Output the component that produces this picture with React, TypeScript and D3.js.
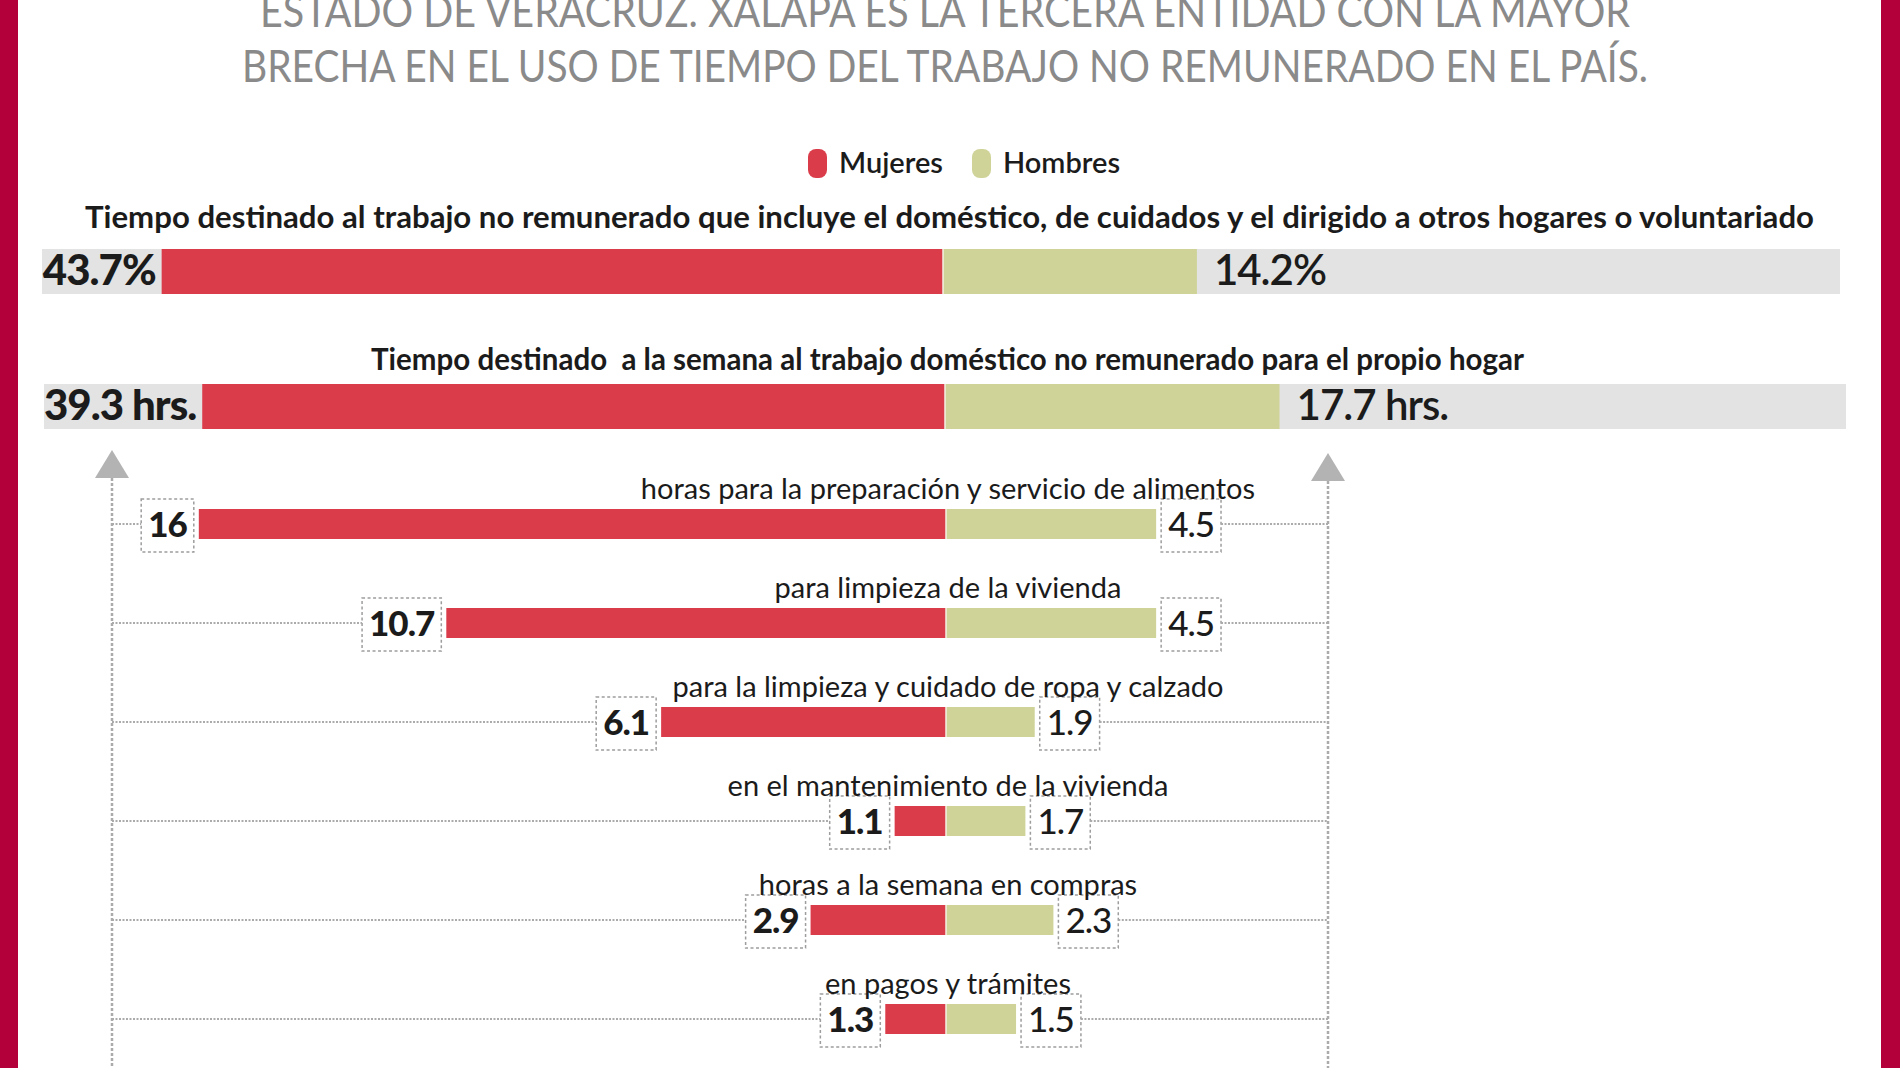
import React, { useEffect, useRef } from "react";
import * as d3 from "d3";

// ---------- data ----------
const titleLines = [
  "ESTADO DE VERACRUZ. XALAPA ES LA TERCERA ENTIDAD CON LA MAYOR",
  "BRECHA EN EL USO DE TIEMPO DEL TRABAJO NO REMUNERADO EN EL PAÍS.",
];
const seriesNames = ["Mujeres", "Hombres"];
const summaryTitles = [
  "Tiempo destinado al trabajo no remunerado que incluye el doméstico, de cuidados y el dirigido a otros hogares o voluntariado",
  "Tiempo destinado  a la semana al trabajo doméstico no remunerado para el propio hogar",
];
const summaryMujeres = [43.7, 39.3];
const summaryHombres = [14.2, 17.7];
const summaryUnits = ["%", " hrs."];
const categories = [
  "horas para la preparación y servicio de alimentos",
  "para limpieza de la vivienda",
  "para la limpieza y cuidado de ropa y calzado",
  "en el mantenimiento de la vivienda",
  "horas a la semana en compras",
  "en pagos y trámites",
];
const mujeres = [16, 10.7, 6.1, 1.1, 2.9, 1.3];
const hombres = [4.5, 4.5, 1.9, 1.7, 2.3, 1.5];
const nextCategory = "en gestión y administración";

// ---------- style ----------
const RED = "#db3c4a";
const GREEN = "#cfd398";
const BG = "#e3e3e3";
const BORDER = "#b4003a";
const INK = "#1b1b1b";
const DOT = "#ababab";
const FONT = "Lato, 'Open Sans', sans-serif";

export default function App() {
  const ref = useRef<SVGSVGElement | null>(null);

  useEffect(() => {
    const svg = d3.select(ref.current);
    svg.selectAll("*").remove();

    // borders
    svg.append("rect").attr("x", 0).attr("y", 0).attr("width", 18).attr("height", 1068).attr("fill", BORDER);
    svg.append("rect").attr("x", 1881).attr("y", 0).attr("width", 19).attr("height", 1068).attr("fill", BORDER);

    // title
    const titleY = [27, 82];
    const titleW = [1370, 1406];
    titleLines.forEach((t, i) => {
      svg.append("text")
        .attr("x", 945).attr("y", titleY[i])
        .attr("text-anchor", "middle")
        .attr("font-family", FONT).attr("font-size", 45).attr("font-weight", 400)
        .attr("fill", "#8a8a8a")
        .attr("textLength", titleW[i]).attr("lengthAdjust", "spacingAndGlyphs")
        .text(t);
    });

    // legend
    const legendX = [808, 972];
    const legendColors = [RED, GREEN];
    seriesNames.forEach((n, i) => {
      svg.append("rect").attr("x", legendX[i]).attr("y", 149).attr("width", 19).attr("height", 29)
        .attr("rx", 8).attr("fill", legendColors[i]);
      svg.append("text").attr("x", legendX[i] + 31).attr("y", 173)
        .attr("font-family", FONT).attr("font-size", 29).attr("font-weight", 600).attr("fill", INK)
        .text(n);
    });

    // summary bars
    const summaryScales = [
      d3.scaleLinear().domain([-50, 50]).range([49, 1837]),
      d3.scaleLinear().domain([-40, 40]).range([189, 1701]),
    ];
    const sumTitleX = [949.5, 947.5];
    const sumTitleY = [228, 370];
    const sumTitleW = [1729, 1153];
    const sumBarY = [249, 384];
    const sumBgX = [[42, 1840], [44, 1846]];
    const barH = 45;
    summaryTitles.forEach((t, i) => {
      const x = summaryScales[i];
      svg.append("text")
        .attr("x", sumTitleX[i]).attr("y", sumTitleY[i])
        .attr("text-anchor", "middle")
        .attr("font-family", FONT).attr("font-size", 31).attr("font-weight", 700).attr("fill", INK)
        .attr("textLength", sumTitleW[i]).attr("lengthAdjust", "spacingAndGlyphs")
        .style("white-space", "pre")
        .text(t);
      svg.append("rect").attr("x", sumBgX[i][0]).attr("y", sumBarY[i])
        .attr("width", sumBgX[i][1] - sumBgX[i][0]).attr("height", barH).attr("fill", BG);
      svg.append("rect").attr("x", x(-summaryMujeres[i])).attr("y", sumBarY[i])
        .attr("width", x(0) - x(-summaryMujeres[i])).attr("height", barH).attr("fill", RED);
      svg.append("rect").attr("x", x(0)).attr("y", sumBarY[i])
        .attr("width", x(summaryHombres[i]) - x(0)).attr("height", barH).attr("fill", GREEN);
      svg.append("line").attr("x1", x(0)).attr("x2", x(0)).attr("y1", sumBarY[i]).attr("y2", sumBarY[i] + barH)
        .attr("stroke", "#f4f0e6").attr("stroke-width", 1.5);
      const fmt = (v: number) => `${v}${summaryUnits[i]}`;
      svg.append("text")
        .attr("x", x(-summaryMujeres[i]) - 6).attr("y", sumBarY[i] + 36)
        .attr("text-anchor", "end")
        .attr("font-family", FONT).attr("font-size", 42).attr("font-weight", 900).attr("fill", INK)
        .attr("letter-spacing", -1)
        .text(fmt(summaryMujeres[i]));
      svg.append("text")
        .attr("x", x(summaryHombres[i]) + 17).attr("y", sumBarY[i] + 36)
        .attr("font-family", FONT).attr("font-size", 42).attr("font-weight", 600).attr("fill", INK)
        .attr("letter-spacing", -1)
        .text(fmt(summaryHombres[i]));
    });

    // detail section
    const xD = d3.scaleLinear().domain([-16, 16]).range([198.8, 1693.2]);
    const yD = d3.scalePoint<string>().domain(categories).range([509, 1004]);
    const dH = 30;
    const axisL = 112;
    const axisR = 1328;

    // vertical dotted axes with arrows
    [[axisL, 450], [axisR, 453]].forEach(([ax, top]) => {
      svg.append("line").attr("x1", ax).attr("x2", ax).attr("y1", top + 28).attr("y2", 1068)
        .attr("stroke", DOT).attr("stroke-width", 2.5).attr("stroke-dasharray", "3,2");
      svg.append("path")
        .attr("d", `M${ax},${top} L${ax + 17},${top + 28} L${ax - 17},${top + 28} Z`)
        .attr("fill", "#b3b3b3");
    });

    categories.forEach((c, i) => {
      const y0 = yD(c) as number;
      const cy = y0 + dH / 2;
      // bars
      svg.append("rect").attr("x", xD(-mujeres[i])).attr("y", y0)
        .attr("width", xD(0) - xD(-mujeres[i])).attr("height", dH).attr("fill", RED);
      svg.append("rect").attr("x", xD(0)).attr("y", y0)
        .attr("width", xD(hombres[i]) - xD(0)).attr("height", dH).attr("fill", GREEN);
      svg.append("line").attr("x1", xD(0)).attr("x2", xD(0)).attr("y1", y0).attr("y2", y0 + dH)
        .attr("stroke", "#f4f0e6").attr("stroke-width", 1.5);

      // value boxes
      const gap = 5;
      const pad = 7;
      const boxTop = cy - 25;
      const boxH = 53;

      const tL = svg.append("text")
        .attr("y", cy + 12.5)
        .attr("text-anchor", "middle")
        .attr("font-family", FONT).attr("font-size", 35).attr("font-weight", 900).attr("fill", INK)
        .attr("letter-spacing", -1)
        .text(String(mujeres[i]));
      const wL = (tL.node() as SVGTextElement).getComputedTextLength();
      const bwL = wL + pad * 2;
      const bxL = xD(-mujeres[i]) - gap - bwL;
      tL.attr("x", bxL + bwL / 2);
      svg.append("rect").attr("x", bxL).attr("y", boxTop).attr("width", bwL).attr("height", boxH)
        .attr("fill", "none").attr("stroke", "#9d9d9d").attr("stroke-width", 1.5).attr("stroke-dasharray", "3,2.5");
      svg.append("line").attr("x1", axisL).attr("x2", bxL).attr("y1", cy).attr("y2", cy)
        .attr("stroke", DOT).attr("stroke-width", 2).attr("stroke-dasharray", "2,1.5");

      const tR = svg.append("text")
        .attr("y", cy + 12.5)
        .attr("text-anchor", "middle")
        .attr("font-family", FONT).attr("font-size", 35).attr("font-weight", 500).attr("fill", INK)
        .attr("letter-spacing", -1)
        .text(String(hombres[i]));
      const wR = (tR.node() as SVGTextElement).getComputedTextLength();
      const bwR = wR + pad * 2;
      const bxR = xD(hombres[i]) + gap;
      tR.attr("x", bxR + bwR / 2);
      svg.append("rect").attr("x", bxR).attr("y", boxTop).attr("width", bwR).attr("height", boxH)
        .attr("fill", "none").attr("stroke", "#9d9d9d").attr("stroke-width", 1.5).attr("stroke-dasharray", "3,2.5");
      svg.append("line").attr("x1", bxR + bwR).attr("x2", axisR).attr("y1", cy).attr("y2", cy)
        .attr("stroke", DOT).attr("stroke-width", 2).attr("stroke-dasharray", "2,1.5");

      // category label
      svg.append("text").attr("x", 948).attr("y", y0 - 10)
        .attr("text-anchor", "middle")
        .attr("font-family", FONT).attr("font-size", 29).attr("font-weight", 400).attr("fill", INK)
        .text(c);
    });

    // next (cut-off) category label
    const step = yD.step();
    const lastY = (yD(categories[categories.length - 1]) as number) + step;
    svg.append("text").attr("x", 948).attr("y", lastY - 10)
      .attr("text-anchor", "middle")
      .attr("font-family", FONT).attr("font-size", 29).attr("font-weight", 400).attr("fill", INK)
      .text(nextCategory);
  }, []);

  return (
    <svg
      ref={ref}
      width={1900}
      height={1068}
      style={{ position: "absolute", left: 0, top: 0, display: "block", background: "white" }}
    />
  );
}
